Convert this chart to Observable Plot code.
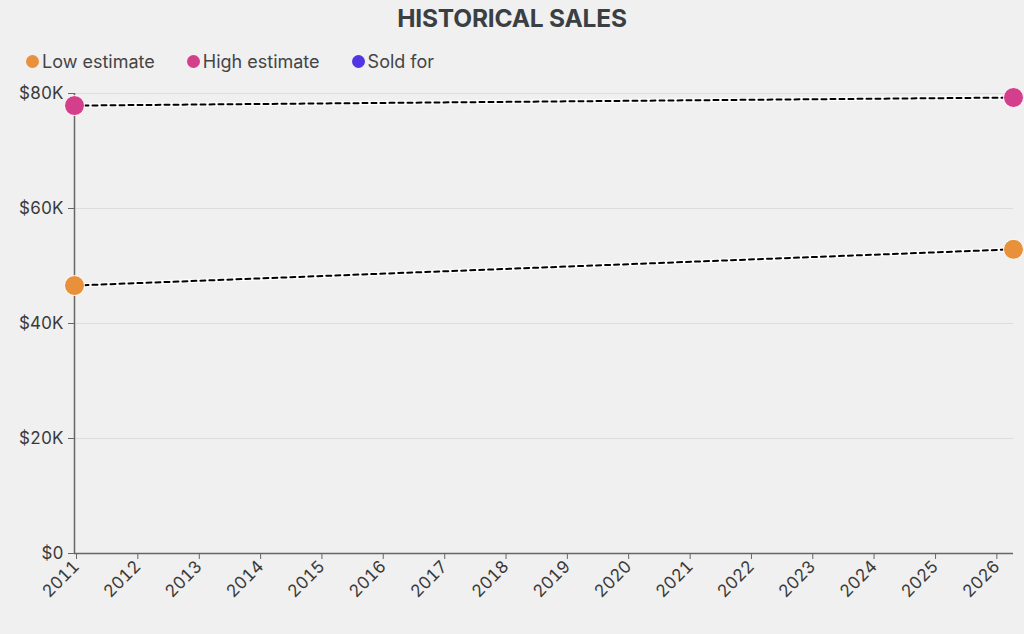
<!DOCTYPE html>
<html>
<head>
<meta charset="utf-8">
<script src="https://cdn.jsdelivr.net/npm/d3@7"></script>
<script src="https://cdn.jsdelivr.net/npm/@observablehq/plot@0.6"></script>
<style>
  html, body { margin: 0; padding: 0; background: #f0f0f0; font-family: Inter, "Noto Sans", sans-serif; }
  #wrap { width: 1024px; height: 634px; position: relative; overflow: hidden; }
  #title { position: absolute; top: 3px; left: 0; width: 1024px; text-align: center; font-weight: 700; font-size: 24.5px; color: #3a3f44; letter-spacing: -0.2px; }
  #legend { position: absolute; top: 51px; left: 26px; display: flex; font-size: 18px; color: #444; }
  .item { display: flex; align-items: center; margin-right: 32px; }
  .dot { width: 13px; height: 13px; border-radius: 50%; margin-right: 3px; }
  #chart { position: absolute; top: 80px; left: 0; }
</style>
</head>
<body>
<div id="wrap">
  <div id="title">HISTORICAL SALES</div>
  <div id="legend"></div>
  <div id="chart"></div>
</div>
<script>
// Series definitions
const seriesNames = ["Low estimate", "High estimate", "Sold for"];
const seriesColors = ["#e8913a", "#d43f8c", "#4f35e3"];

// Data points (dates and values)
const dates = ["2010-12-20", "2026-04-10"];
const lowEstimate = [46600, 52900];
const highEstimate = [77900, 79300];
const soldFor = [];

const yTicks = [0, 20000, 40000, 60000, 80000];

const parse = d3.utcParse("%Y-%m-%d");
const points = [];
lowEstimate.forEach((v, i) => points.push({series: seriesNames[0], date: parse(dates[i]), value: v}));
highEstimate.forEach((v, i) => points.push({series: seriesNames[1], date: parse(dates[i]), value: v}));
soldFor.forEach((v, i) => points.push({series: seriesNames[2], date: parse(dates[i]), value: v}));

// legend
const legend = document.getElementById("legend");
seriesNames.forEach((n, i) => {
  const it = document.createElement("div");
  it.className = "item";
  it.innerHTML = `<span class="dot" style="background:${seriesColors[i]}"></span><span>${n}</span>`;
  legend.appendChild(it);
});

const xDomain = [parse(dates[0]), parse(dates[dates.length - 1])];

const chart = Plot.plot({
  width: 1024,
  height: 533,
  marginLeft: 74,
  marginRight: 11,
  marginTop: 13,
  marginBottom: 60,
  style: {background: "transparent", fontFamily: "Inter, sans-serif", fontSize: "17px", color: "#444"},
  x: {type: "utc", domain: xDomain},
  y: {domain: [0, 80000]},
  color: {domain: seriesNames, range: seriesColors},
  marks: [
    Plot.gridY(yTicks, {stroke: "#ddd", strokeOpacity: 1}),
    Plot.axisY(yTicks, {tickFormat: d => d === 0 ? "$0" : "$" + d / 1000 + "K", tickSize: 6, stroke: "#666", fill: "#3a3a3a", fontSize: 17, tickPadding: 5, label: null}),
    Plot.axisX({ticks: d3.utcYear.every(1), tickFormat: d3.utcFormat("%Y"), tickRotate: -45, tickSize: 6, stroke: "#666", fill: "#3a3a3a", fontSize: 17, tickPadding: 4, label: null}),
    Plot.ruleX([xDomain[0]], {stroke: "#666", strokeWidth: 1.5}),
    Plot.ruleY([0], {stroke: "#666", strokeWidth: 1.5}),
    Plot.line(points, {x: "date", y: "value", z: "series", stroke: "white", strokeWidth: 4}),
    Plot.line(points, {x: "date", y: "value", z: "series", stroke: "black", strokeWidth: 2, strokeDasharray: "5,4"}),
    Plot.dot(points, {x: "date", y: "value", fill: "series", r: 10, stroke: "white", strokeWidth: 1})
  ]
});
document.getElementById("chart").appendChild(chart);
</script>
</body>
</html>
